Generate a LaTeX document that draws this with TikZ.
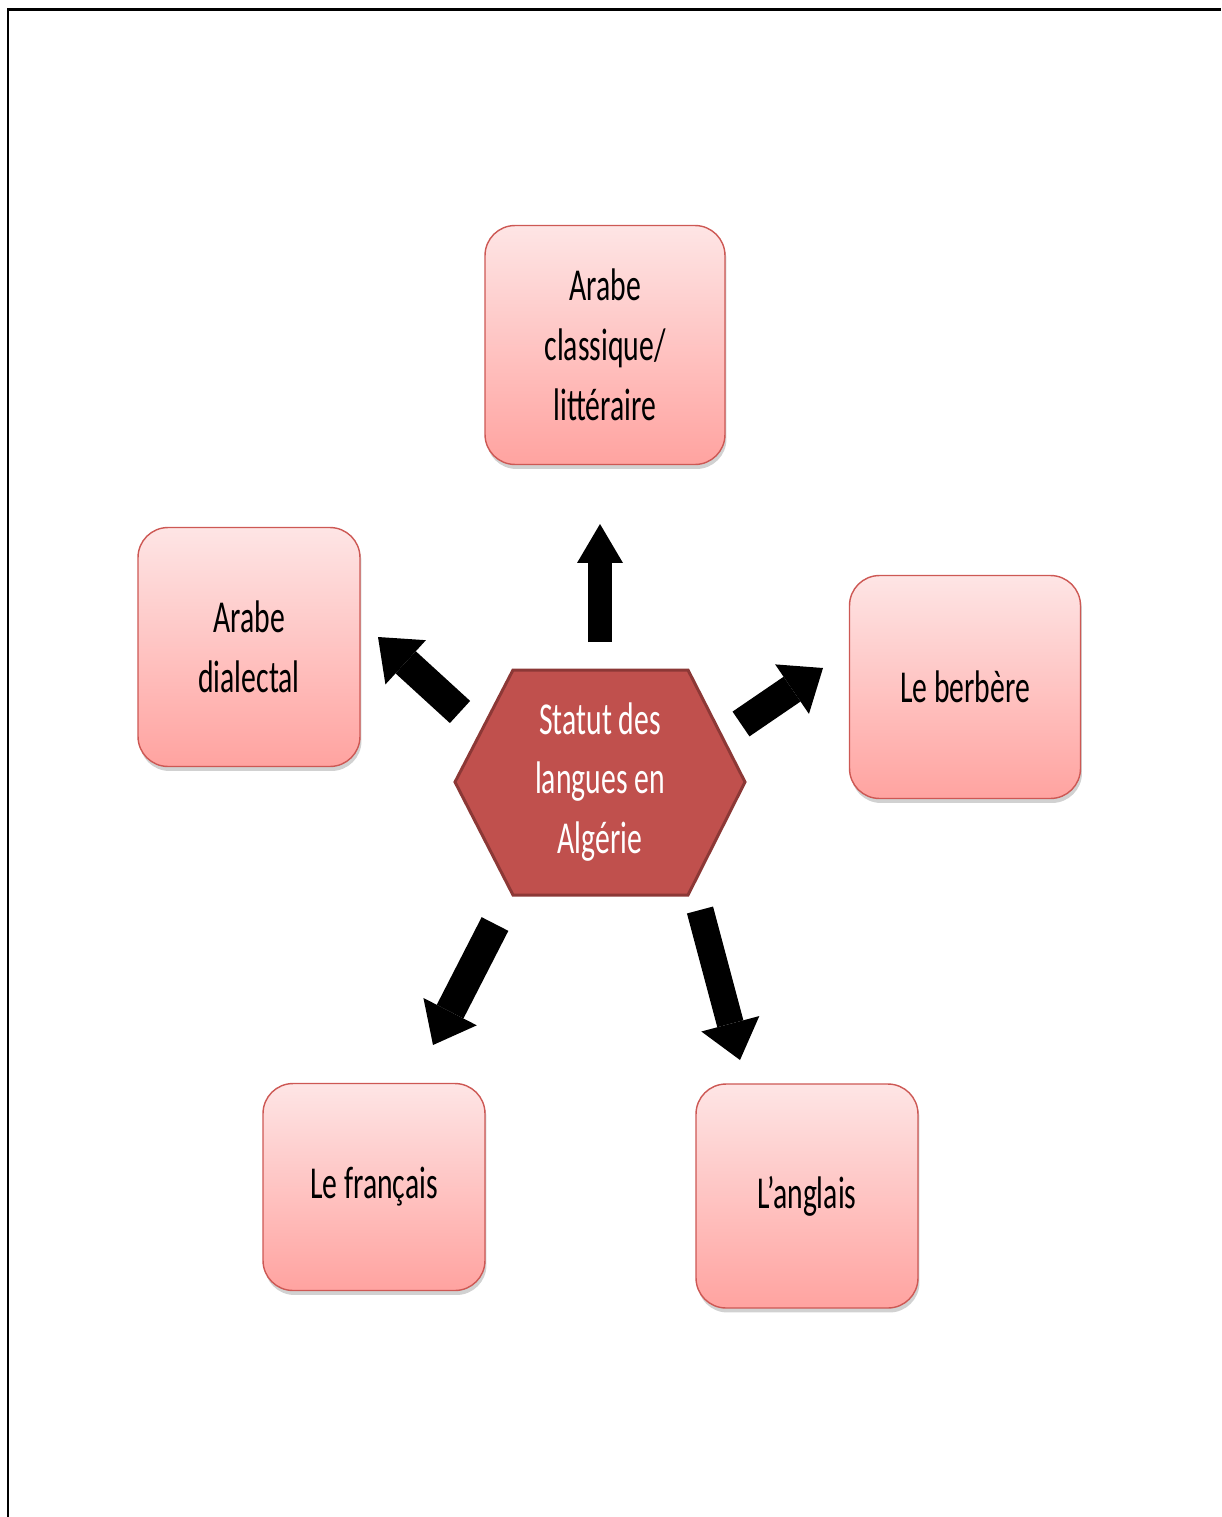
\documentclass[tikz,border=0pt]{standalone}
\usepackage{fontspec}
\setmainfont{Carlito}[FakeStretch=0.65]
\usetikzlibrary{arrows.meta,shadows}

\definecolor{boxtop}{RGB}{254,229,229}
\definecolor{boxbottom}{RGB}{255,163,160}
\definecolor{boxline}{RGB}{205,88,84}
\definecolor{hubfill}{RGB}{192,80,77}
\definecolor{hubline}{RGB}{140,56,54}

\begin{document}
\begin{tikzpicture}[x=0.02cm, y=-0.02cm,
    langbox/.style={draw=boxline, line width=0.8pt, rounded corners=0.6cm,
        top color=boxtop, bottom color=boxbottom, align=center,
        font=\fontsize{26pt}{34pt}\selectfont,
        drop shadow={shadow xshift=0.03cm, shadow yshift=-0.09cm, opacity=0.3, fill=black!60}},
    hubtext/.style={text=white, align=center, font=\fontsize{26pt}{34pt}\selectfont},
    bigarrow/.style={line width=0.6cm, -{Triangle[width=1.2cm, length=0.75cm, line width=0pt]}}
]
    \useasboundingbox (0,0) rectangle (1221,1517);

    % cadre
    \draw[line width=0.055cm] (8,1517) -- (8,9.5) -- (1221,9.5);

    % hexagone central
    \draw[fill=hubfill, draw=hubline, line width=0.06cm]
        (455,782) -- (513,670) -- (688,670) -- (745,782) -- (688,895) -- (513,895) -- cycle;
    \node[hubtext] (hub) at (600,782) {Statut des\\langues en\\Algérie};

    % les langues
    \node[langbox, minimum width=4.8cm, minimum height=4.78cm] (classique) at (605,345) {Arabe\\classique/\\littéraire};
    \node[langbox, minimum width=4.44cm, minimum height=4.78cm] (dialectal) at (249,647) {Arabe\\dialectal};
    \node[langbox, minimum width=4.62cm, minimum height=4.46cm] (berbere) at (965,687) {Le berbère};
    \node[langbox, minimum width=4.44cm, minimum height=4.14cm] (francais) at (374,1187) {Le français};
    \node[langbox, minimum width=4.44cm, minimum height=4.48cm] (anglais) at (807,1196) {L’anglais};

    % extrémités des flèches
    \coordinate (up-s) at (600,642);  \coordinate (up-e) at (600,524);
    \coordinate (nw-s) at (460,712);  \coordinate (nw-e) at (378,637);
    \coordinate (ne-s) at (741,724);  \coordinate (ne-e) at (823,668);
    \coordinate (sw-s) at (495,924);  \coordinate (sw-e) at (433,1045);
    \coordinate (se-s) at (700,910);  \coordinate (se-e) at (740,1060);

    % flèches
    \draw[bigarrow, line width=0.48cm, -{Triangle[width=0.92cm, length=0.78cm, line width=0pt]}] (up-s) -- (up-e);
    \draw[bigarrow] (nw-s) -- (nw-e);
    \draw[bigarrow] (ne-s) -- (ne-e);
    \draw[bigarrow] (sw-s) -- (sw-e);
    \draw[bigarrow, line width=0.54cm] (se-s) -- (se-e);

\end{tikzpicture}
\end{document}
